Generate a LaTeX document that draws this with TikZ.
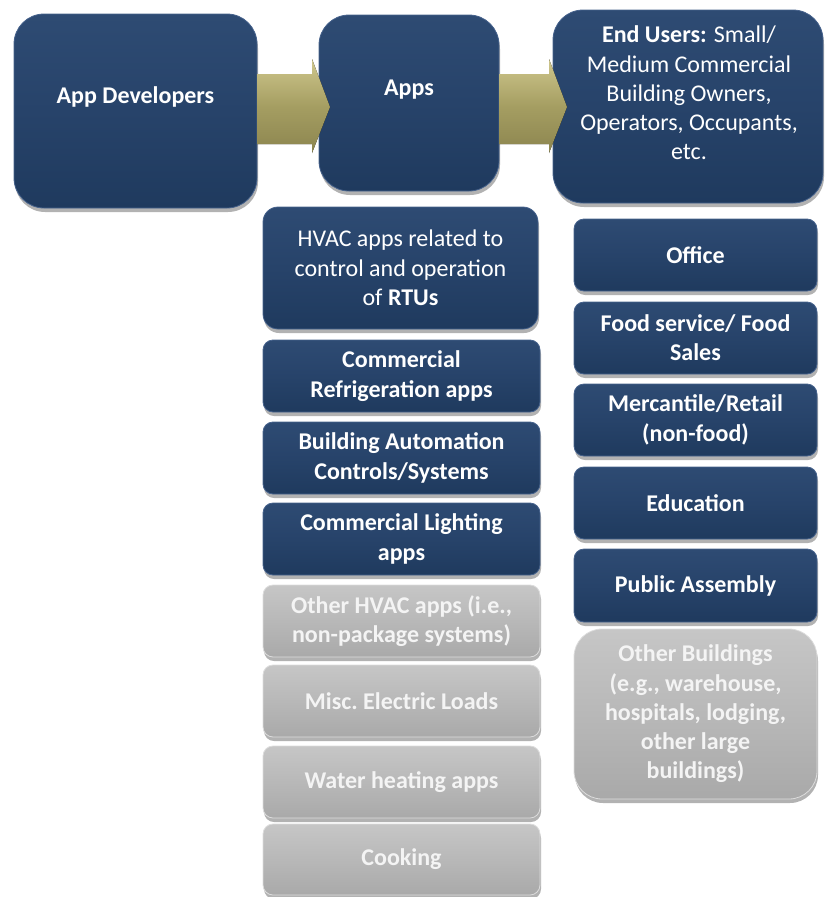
\documentclass[tikz,border=0pt]{standalone}
\usepackage{fontspec}
\setmainfont{Carlito}
\usetikzlibrary{shadows}
\definecolor{navyT}{HTML}{2E4B73}
\definecolor{navyM}{HTML}{27436A}
\definecolor{navyB}{HTML}{1F3A5E}
\definecolor{navyE}{HTML}{46628C}
\definecolor{greyT}{HTML}{C6C6C6}
\definecolor{greyM}{HTML}{B8B8B8}
\definecolor{greyB}{HTML}{A9A9A9}
\definecolor{greyE}{HTML}{DCDCDC}
\definecolor{txtgrey}{HTML}{F4F4F4}
\definecolor{arrT}{HTML}{CFC78D}
\definecolor{arrM}{HTML}{A59E62}
\definecolor{arrB}{HTML}{8C854F}
\tikzset{
  base/.style={rounded corners=#1, inner sep=0pt, align=center,
    font=\fontsize{24}{29.3}\selectfont,
    drop shadow={shadow xshift=1pt, shadow yshift=-4pt, opacity=0.3, fill=black}},
  navybox/.style={base=#1, draw=navyE, line width=0.8pt,
    top color=navyT, bottom color=navyB, middle color=navyM, text=white},
  greybox/.style={base=#1, draw=greyE, line width=0.8pt,
    top color=greyT, bottom color=greyB, middle color=greyM, text=txtgrey},
  label/.style={inner sep=0pt, align=center, text=white,
    font=\fontsize{24}{29.3}\selectfont},
  bigarrow/.style={top color=arrT, bottom color=arrB, middle color=arrM, draw=none}
}
\newcommand{\bx}[7]{%
  \node[#6, minimum width={(#4-#2)*1pt}, minimum height={(#5-#3)*1pt}]
    (#1) at ({(#2+#4)/2},{(#3+#5)/2}) {#7};}
\begin{document}
\begin{tikzpicture}[x=1pt,y=-1pt]
\useasboundingbox (0,0) rectangle (825,897);
% top row
\bx{dev}{14}{14}{257}{208}{navybox=30pt}{}
\bx{apps}{319}{15}{499}{191}{navybox=30pt}{}
\bx{users}{553}{10}{823}{203}{navybox=30pt}{}
\node[label] (devt) at (135.5,97) {\textbf{App Developers}};
\node[label] (appst) at (409,90) {\textbf{Apps}};
\node[label] (userst) at (689,93) {\textbf{End Users:} Small/\\Medium Commercial\\Building Owners,\\Operators, Occupants,\\etc.};
% arrows
\coordinate (a1s) at (dev.east |- 0,74);
\fill[bigarrow] (a1s) -- (312,74) -- (312,59) -- (330,107) -- (312,153) -- (312,144) -- (dev.east |- 0,144) -- cycle;
\coordinate (a2s) at (apps.east |- 0,74);
\fill[bigarrow] (a2s) -- (549,74) -- (549,59) -- (567,107) -- (549,153) -- (549,144) -- (apps.east |- 0,144) -- cycle;
% apps column
\bx{hvac}{263}{207}{538}{329}{navybox=15pt}{HVAC apps related to\\control and operation\\of \textbf{RTUs}}
\bx{refr}{263}{340}{540}{412}{navybox=10pt}{\textbf{Commercial}\\\textbf{Refrigeration apps}}
\bx{bas}{263}{422}{540}{494}{navybox=10pt}{\textbf{Building Automation}\\\textbf{Controls/Systems}}
\bx{light}{263}{503}{540}{575}{navybox=10pt}{\textbf{Commercial Lighting}\\\textbf{apps}}
\bx{ohvac}{263}{585}{540}{657}{greybox=10pt}{\textbf{Other HVAC apps (i.e.,}\\\textbf{non-package systems)}}
\bx{misc}{263}{665}{540}{737}{greybox=10pt}{\textbf{Misc.\ Electric Loads}}
\bx{water}{263}{746}{540}{818}{greybox=10pt}{\textbf{Water heating apps}}
\bx{cook}{263}{824}{540}{895}{greybox=10pt}{\textbf{Cooking}}
% end users column
\bx{office}{574}{219}{817}{291}{navybox=10pt}{\textbf{Office}}
\bx{food}{574}{302}{817}{374}{navybox=10pt}{\textbf{Food service/ Food}\\\textbf{Sales}}
\bx{merc}{574}{384}{817}{456}{navybox=10pt}{\textbf{Mercantile/Retail}\\\textbf{(non-food)}}
\bx{edu}{574}{467}{817}{539}{navybox=10pt}{\textbf{Education}}
\bx{pub}{574}{549}{817}{622}{navybox=10pt}{\textbf{Public Assembly}}
\bx{oth}{574}{629}{817}{799}{greybox=28pt}{\textbf{Other Buildings}\\\textbf{(e.g.,\ warehouse,}\\\textbf{hospitals, lodging,}\\\textbf{other large}\\\textbf{buildings)}}
\end{tikzpicture}
\end{document}
